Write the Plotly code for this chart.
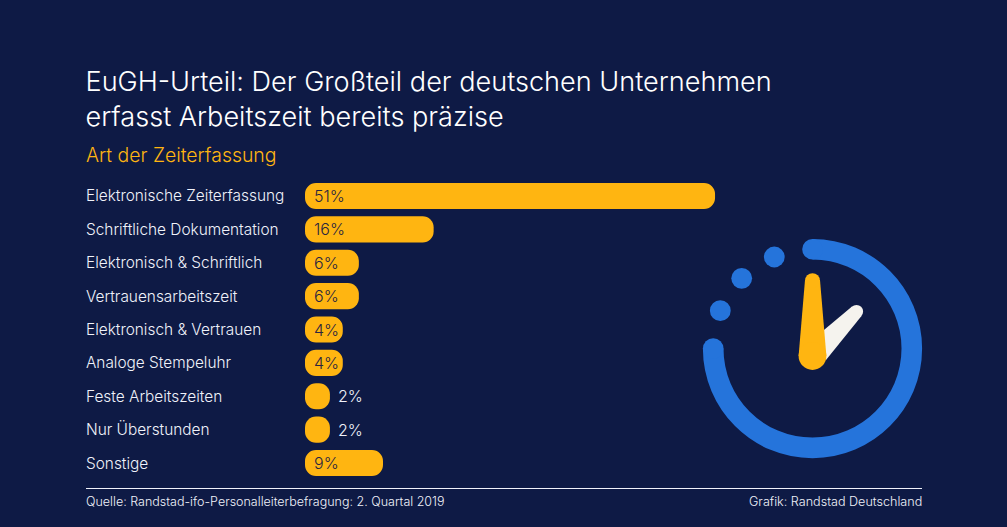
import plotly.graph_objects as go

categories = ["Elektronische Zeiterfassung", "Schriftliche Dokumentation", "Elektronisch & Schriftlich",
              "Vertrauensarbeitszeit", "Elektronisch & Vertrauen", "Analoge Stempeluhr",
              "Feste Arbeitszeiten", "Nur Überstunden", "Sonstige"]
shown_percent = [51, 16, 6, 6, 4, 4, 2, 2, 9]
# bar lengths as measured in the picture (small bars are drawn longer than their rounded label)
bar_lengths = [51, 16, 6.7, 6.7, 4.7, 4.7, 3.1, 3.1, 9.7]
title_text = "EuGH-Urteil: Der Großteil der deutschen Unternehmen<br>erfasst Arbeitszeit bereits präzise"
subtitle_text = "Art der Zeiterfassung"
source_text = "Quelle: Randstad-ifo-Personalleiterbefragung: 2. Quartal 2019"
credit_text = "Grafik: Randstad Deutschland"

W, H = 1007, 527
BG, YEL, BLUE, OFF, TXT, DARK = "#0E1A45", "#FFB511", "#2574DB", "#F5F3EE", "#F0F2FA", "#2A2540"
FONT = "Inter"
PX = 8.04
X0 = 305

labels = [f"{v}%" for v in shown_percent]

fig = go.Figure()
# an explicit base makes plotly round both ends of each bar
fig.add_bar(y=categories, x=bar_lengths, base=[0] * len(bar_lengths), orientation="h",
            marker=dict(color=YEL, cornerradius=11, line_width=0),
            width=0.78, hoverinfo="skip", showlegend=False)
# invisible trace keeps the full-figure pixel axes alive
fig.add_scatter(x=[0, W], y=[0, H], xaxis="x2", yaxis="y2", mode="none", showlegend=False, hoverinfo="skip")

shapes = []
def circle(cx, cy, r, col):
    shapes.append(dict(type="circle", xref="x2", yref="y2", x0=cx-r, x1=cx+r, y0=cy-r, y1=cy+r,
                       fillcolor=col, line_width=0))
def poly(pts, col):
    p = "M " + " L ".join(f"{a},{b}" for a, b in pts) + " Z"
    shapes.append(dict(type="path", xref="x2", yref="y2", path=p, fillcolor=col, line_width=0))

# footer rule
shapes.append(dict(type="line", xref="x2", yref="y2", x0=86, x1=922, y0=488.5, y1=488.5,
                   line=dict(color=TXT, width=1)))
# clock illustration
cx, cy, R, SW = 812.5, 348.6, 99.3, 20.6
k = 0.5523 * R
arc = (f"M {cx},{cy-R} C {cx+k},{cy-R} {cx+R},{cy-k} {cx+R},{cy} "
       f"C {cx+R},{cy+k} {cx+k},{cy+R} {cx},{cy+R} "
       f"C {cx-k},{cy+R} {cx-R},{cy+k} {cx-R},{cy}")
shapes.append(dict(type="path", xref="x2", yref="y2", path=arc, line=dict(color=BLUE, width=SW),
                   fillcolor="rgba(0,0,0,0)"))
circle(cx, cy-R, SW/2, BLUE)
circle(cx-R, cy, SW/2, BLUE)
circle(774.3, 257, 10.4, BLUE)
circle(741.7, 278.3, 10.4, BLUE)
circle(720.3, 310.7, 10.4, BLUE)
# white hand
poly([(852, 306.5), (861.5, 316), (826, 360), (812, 340)], OFF)
circle(856.5, 311.5, 6.6, OFF)
# yellow hand
poly([(805, 280), (820, 280), (826.4, 356), (798.6, 356)], YEL)
circle(812.5, 280.6, 7.4, YEL)
circle(812.5, 356, 13.9, YEL)

ann = [dict(text=c, x=84, y=c, xref="x2", yref="y", xanchor="left", yanchor="middle", showarrow=False,
            font=dict(family=FONT, size=15.4, color=TXT, weight=300)) for c in categories]
for c, l, s in zip(categories, bar_lengths, labels):
    inside = l > 4
    ann.append(dict(text=s, x=(0.9 if inside else l + 0.8), y=c, xref="x", yref="y", xanchor="left",
                    yanchor="middle", showarrow=False,
                    font=dict(family=FONT, size=16, color=DARK if inside else TXT, weight=300)))
ann.append(dict(text=subtitle_text, x=84, y=155, xref="x2", yref="y2", xanchor="left", yanchor="middle",
                showarrow=False, font=dict(family=FONT, size=19.4, color=YEL, weight=300)))
ann.append(dict(text=source_text, x=84, y=501, xref="x2", yref="y2", xanchor="left", yanchor="middle",
                showarrow=False, font=dict(family=FONT, size=12.5, color=TXT, weight=300)))
ann.append(dict(text=credit_text, x=924, y=501, xref="x2", yref="y2", xanchor="right", yanchor="middle",
                showarrow=False, font=dict(family=FONT, size=12.6, color=TXT, weight=300)))

fig.update_layout(
    width=W, height=H, margin=dict(l=0, r=0, t=0, b=0), paper_bgcolor=BG, plot_bgcolor="rgba(0,0,0,0)",
    title=dict(text=title_text, x=85.5/W, xref="paper", xanchor="left", y=1-91/H, yref="paper", yanchor="top",
               font=dict(family=FONT, size=27.1, color="#FFFFFF", weight=300)),
    xaxis=dict(domain=[X0/W, 1], range=[0, (W-X0)/PX], visible=False),
    yaxis=dict(domain=[1-479.7/H, 1-179.3/H], type="category", categoryorder="array", categoryarray=categories,
               autorange="reversed", visible=False),
    xaxis2=dict(domain=[0, 1], range=[0, W], visible=False, anchor="y2"),
    yaxis2=dict(domain=[0, 1], range=[H, 0], visible=False, anchor="x2"),
    shapes=shapes, annotations=ann,
)
fig.write_html("out.html", config=dict(displayModeBar=False),
               post_script="document.body.style.margin='0';document.body.style.overflow='hidden';")
